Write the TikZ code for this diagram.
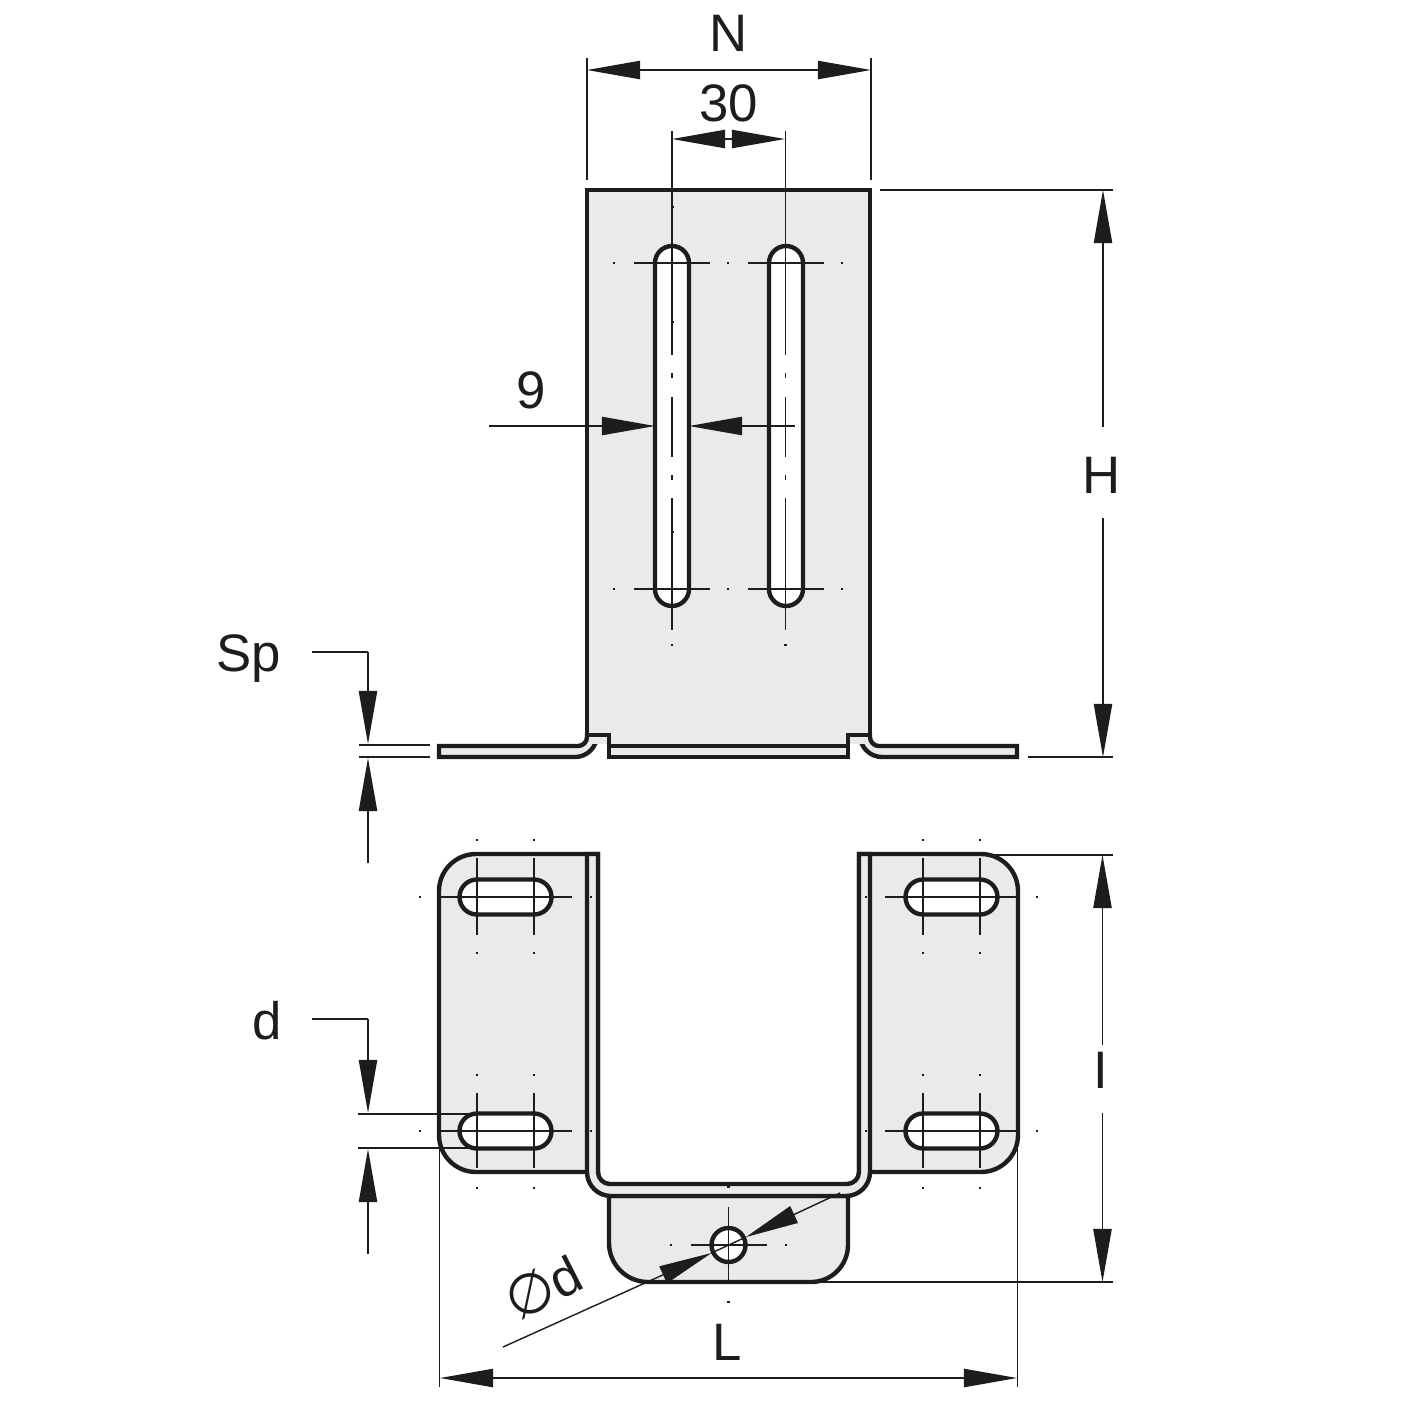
\documentclass[tikz,border=0pt]{standalone}
\usepackage{fontspec}
\setmainfont{Liberation Sans}
\newfontfamily\phifont{DejaVu Sans}
\usetikzlibrary{arrows.meta}
\definecolor{plate}{HTML}{E9EBEA}
\definecolor{ink}{HTML}{1E1C1D}
\tikzset{
  heavy/.style={draw=ink,line width=1.25pt,line join=miter},
  sheet/.style={heavy,fill=plate},
  hole/.style={heavy,fill=white},
  thin/.style={draw=ink,line width=0.4pt},
  dimline/.style={thin,-{Triangle[length=15.1pt,width=5.2pt,color=ink]}},
  lab/.style={font=\fontsize{15}{16}\selectfont,text=ink,inner sep=0pt,anchor=center},
  dotmark/.style={fill=ink,draw=none},
}
\newcommand{\dotm}[2]{\fill[dotmark] (#1-1.3,#2-1.3) rectangle (#1+1.3,#2+1.3);}
\newcommand{\vslot}[1]{\path[hole] (#1-17,589) -- (#1-17,263) arc[start angle=180,end angle=360,radius=17] -- (#1+17,589) arc[start angle=0,end angle=180,radius=17] -- cycle;}
\newcommand{\hslot}[2]{\path[hole] (#1,#2-17.5) -- (#1+57,#2-17.5) arc[start angle=-90,end angle=90,radius=17.5] -- (#1,#2+17.5) arc[start angle=90,end angle=270,radius=17.5] -- cycle;}
\begin{document}
\begin{tikzpicture}[x=0.01cm,y=-0.01cm]
\useasboundingbox (0,0) rectangle (1420,1420);

% ---------- upper view: upright plate and foot
\path[sheet] (587,190) -- (870,190) -- (870,735) -- (587,735) -- cycle;
\path[sheet] (439,746) -- (578,746) arc[start angle=90,end angle=0,radius=9] -- (587,735) -- (597,735)
  arc[start angle=0,end angle=90,radius=22] -- (439,757) -- cycle;
\path[sheet] (1017,746) -- (879,746) arc[start angle=90,end angle=180,radius=9] -- (870,735) -- (860,735)
  arc[start angle=180,end angle=90,radius=22] -- (1017,757) -- cycle;
\path[sheet] (597,735) -- (609,735) -- (609,757) -- (848,757) -- (848,735) -- (860,735);
\path[heavy,fill=plate] (609,746) -- (848,746) -- (848,757) -- (609,757) -- cycle;
\path[fill=plate] (589,725) rectangle (868,744);
\draw[heavy] (609,757) -- (609,735) -- (587,735);
\draw[heavy] (848,757) -- (848,735) -- (870,735);
\draw[heavy] (587,190) -- (587,735);
\draw[heavy] (870,190) -- (870,735);
\vslot{672}
\vslot{786}

% ---------- lower view: U bracket
\path[sheet] (476,854) -- (598,854) -- (598,1172) -- (476,1172)
  arc[start angle=90,end angle=180,radius=37] -- (439,891) arc[start angle=180,end angle=270,radius=37] -- cycle;
\path[sheet] (981,854) -- (859,854) -- (859,1172) -- (981,1172)
  arc[start angle=90,end angle=0,radius=37] -- (1018,891) arc[start angle=0,end angle=-90,radius=37] -- cycle;
\path[sheet] (609,1196) -- (848,1196) -- (848,1245) arc[start angle=0,end angle=90,radius=37] -- (648,1282)
  arc[start angle=90,end angle=180,radius=39] -- cycle;
\path[sheet] (587,854) -- (598,854) -- (598,1172) arc[start angle=180,end angle=90,radius=12] -- (847,1184)
  arc[start angle=90,end angle=0,radius=12] -- (859,854) -- (870,854) -- (870,1172)
  arc[start angle=0,end angle=90,radius=24] -- (611,1196) arc[start angle=90,end angle=180,radius=24] -- cycle;
\hslot{477}{897}
\hslot{923}{897}
\hslot{477}{1131}
\hslot{923}{1131}
\path[hole] (728.5,1245) circle[radius=17];

% ---------- centre lines, upper view
\foreach \cx in {672,785.5}{
  \draw[thin] (\cx,131) -- (\cx,355);
  \draw[thin] (\cx,373) -- (\cx,378);
  \draw[thin] (\cx,397) -- (\cx,457);
  \draw[thin] (\cx,475) -- (\cx,480);
  \draw[thin] (\cx,498) -- (\cx,630);
  \dotm{\cx}{645}
  \draw[thin] (\cx-38,263) -- (\cx+38,263);
  \draw[thin] (\cx-38,589) -- (\cx+38,589);
}
\foreach \dy in {263,589}{\dotm{614}{\dy}\dotm{728}{\dy}\dotm{842}{\dy}}
\foreach \dy in {207,322,532}{\dotm{672.5}{\dy}}

% ---------- centre lines, lower view
\foreach \cy/\ta/\tb/\da/\db in {897/858/935/840/953,1131/1093/1168/1075/1188}{
  \draw[thin] (440,\cy) -- (572,\cy);
  \draw[thin] (885,\cy) -- (1017,\cy);
  \dotm{420}{\cy}\dotm{591}{\cy}\dotm{866}{\cy}\dotm{1037}{\cy}
  \foreach \cx in {477,534,923,980}{
    \draw[thin] (\cx,\ta) -- (\cx,\tb);
    \dotm{\cx}{\da}\dotm{\cx}{\db}
  }
}
\draw[thin] (691,1245) -- (767,1245);
\draw[thin] (728.5,1207) -- (728.5,1281);
\dotm{671}{1245}\dotm{786}{1245}\dotm{728.5}{1187}\dotm{728.5}{1302}

% ---------- extension lines
\draw[thin] (587,58) -- (587,180);
\draw[thin] (871,58) -- (871,180);
\draw[thin] (880,190) -- (1113,190);
\draw[thin] (1028,757) -- (1113,757);
\draw[thin] (985,855) -- (1113,855);
\draw[thin] (820,1282) -- (1113,1282);
\draw[thin] (439.5,1147) -- (439.5,1387);
\draw[thin] (1017.5,1147) -- (1017.5,1387);
\draw[thin] (359,745) -- (430,745);
\draw[thin] (359,757) -- (430,757);
\draw[thin] (358,1114) -- (470,1114);
\draw[thin] (358,1148) -- (470,1148);

% ---------- dimension lines
\coordinate (nL) at (587,70); \coordinate (nR) at (871,70); \coordinate (nM) at (729,70);
\draw[dimline] (nM) -- (nL);
\draw[dimline] (nM) -- (nR);
\coordinate (tL) at (672,139); \coordinate (tR) at (785,139); \coordinate (tM) at (728.5,139);
\draw[dimline] (tM) -- (tL);
\draw[dimline] (tM) -- (tR);
\coordinate (nineA) at (489,426); \coordinate (nineB) at (655,426);
\coordinate (nineC) at (795,426); \coordinate (nineD) at (689,426);
\draw[dimline] (nineA) -- (nineB);
\draw[dimline] (nineC) -- (nineD);
\coordinate (hT) at (1103,190); \coordinate (hTb) at (1103,427);
\coordinate (hB) at (1103,757); \coordinate (hBb) at (1103,518);
\draw[dimline] (hTb) -- (hT);
\draw[dimline] (hBb) -- (hB);
\coordinate (iT) at (1102.5,855); \coordinate (iTb) at (1102.5,1045);
\coordinate (iB) at (1102.5,1282); \coordinate (iBb) at (1102.5,1113);
\draw[dimline] (iTb) -- (iT);
\draw[dimline] (iBb) -- (iB);
\coordinate (lL) at (440,1378); \coordinate (lR) at (1017,1378); \coordinate (lM) at (728.5,1378);
\draw[dimline] (lM) -- (lL);
\draw[dimline] (lM) -- (lR);
\coordinate (spA) at (312,652); \coordinate (spB) at (368,652); \coordinate (spT) at (368,744);
\coordinate (spC) at (368,863); \coordinate (spU) at (368,758);
\draw[thin] (spA) -- (spB);
\draw[dimline] (spB) -- (spT);
\draw[dimline] (spC) -- (spU);
\coordinate (dA) at (312,1019); \coordinate (dB) at (368,1019); \coordinate (dT) at (368,1113);
\coordinate (dC) at (368,1254); \coordinate (dU) at (368,1149);
\draw[thin] (dA) -- (dB);
\draw[dimline] (dB) -- (dT);
\draw[dimline] (dC) -- (dU);
\coordinate (phA) at (503,1347); \coordinate (phT) at (711.5,1253); \coordinate (phU) at (840,1193); \coordinate (phV) at (746,1237);
\draw[dimline] (phA) -- (phT);
\draw[dimline] (phU) -- (phV);
\draw[thin] (phT) -- (phV);

% ---------- labels
\node[lab] (labN) at (728.5,33) {N};
\node[lab] (lab30) at (729,103) {30};
\node[lab] (lab9) at (531,390) {9};
\node[lab] (labH) at (1101.5,475) {H};
\node[lab] (labI) at (1101,1070) {I};
\node[lab] (labSp) at (249,659) {Sp};
\node[lab] (labd) at (267,1021) {d};
\node[lab] (labL) at (727,1342) {L};
\node[lab,rotate=27] (labphi) at (543,1287) {{\phifont\fontsize{16}{16}\selectfont ∅}d};
\end{tikzpicture}
\end{document}
